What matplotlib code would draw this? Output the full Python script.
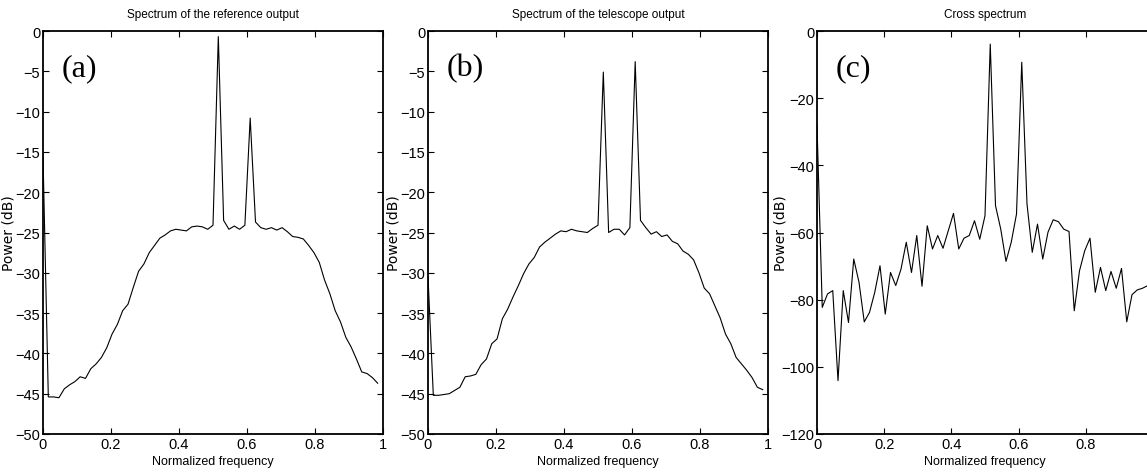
import numpy as np
import matplotlib
matplotlib.use("Agg")
import matplotlib.pyplot as plt
from matplotlib import font_manager

# Datos (64 puntos, paso 1/64)
freq = np.arange(64) / 64.0

ref_db = [-15.5, -45.4, -45.4, -45.5, -44.4, -43.9, -43.5, -42.9, -43.1, -41.9,
          -41.3, -40.5, -39.3, -37.6, -36.4, -34.7, -33.9, -31.8, -29.8, -28.9,
          -27.5, -26.6, -25.7, -25.3, -24.8, -24.6, -24.7, -24.8, -24.3, -24.2,
          -24.3, -24.6, -24.1, -0.7, -23.5, -24.6, -24.2, -24.6, -24.1, -10.8,
          -23.7, -24.4, -24.6, -24.4, -24.7, -24.4, -24.9, -25.5, -25.6, -25.8,
          -26.6, -27.5, -28.7, -30.9, -32.6, -34.7, -36.1, -38.0, -39.2, -40.7,
          -42.3, -42.5, -43.0, -43.7]

tel_db = [-30.5, -45.2, -45.2, -45.1, -45.0, -44.6, -44.2, -42.9, -42.8, -42.6,
          -41.4, -40.7, -38.8, -38.2, -35.7, -34.5, -33.0, -31.6, -30.1, -28.9,
          -28.1, -26.8, -26.2, -25.7, -25.2, -24.8, -24.9, -24.6, -24.8, -24.9,
          -25.0, -24.5, -24.1, -5.1, -25.0, -24.6, -24.6, -25.3, -24.4, -3.8,
          -23.5, -24.4, -25.2, -24.9, -25.5, -25.3, -26.1, -26.4, -27.3, -27.7,
          -28.4, -30.0, -31.9, -32.6, -34.1, -35.6, -37.6, -38.8, -40.5, -41.3,
          -42.1, -43.0, -44.2, -44.5]

cross_db = [-28.0, -82.3, -78.3, -77.3, -104.1, -77.3, -86.8, -67.9, -74.8, -86.6,
            -83.8, -77.8, -69.9, -84.3, -71.9, -75.8, -70.9, -62.9, -71.9, -60.9,
            -76.0, -58.0, -64.9, -60.9, -64.7, -59.5, -54.3, -64.9, -61.7, -60.9,
            -56.5, -62.0, -55.0, -3.9, -52.0, -59.0, -68.6, -62.9, -54.5, -9.3,
            -51.5, -65.9, -57.5, -67.9, -59.9, -56.2, -56.8, -59.0, -59.7, -83.3,
            -71.4, -65.4, -61.7, -77.8, -70.4, -77.3, -71.6, -76.6, -70.7, -86.6,
            -78.5, -77.1, -76.6, -75.8]

titles = ["Spectrum of the reference output", "Spectrum of the telescope output",
          "Cross spectrum"]
panel_tags = ["(a)", "(b)", "(c)"]
series = [ref_db, tel_db, cross_db]
y_ranges = [(-50, 0), (-50, 0), (-120, 0)]
y_steps = [5, 5, 20]
x_ticks = [0, 0.2, 0.4, 0.6, 0.8, 1]
x_tick_labels = ["0", "0.2", "0.4", "0.6", "0.8", "1"]

installed = {f.name for f in font_manager.fontManager.ttflist}
narrow = "Liberation Sans Narrow" if "Liberation Sans Narrow" in installed else "Liberation Sans"
plt.rcParams["font.family"] = [narrow, "DejaVu Sans"]

W, H = 1147, 477
fig = plt.figure(figsize=(W / 100, H / 100), dpi=100)

# posiciones en pixeles (izquierda, ancho) y posicion x del ylabel
boxes = [(43, 340), (428, 340), (817, 336)]
ylabel_x = [-0.082, -0.082, -0.089]
top_px, bottom_px = 32, 435

for k in range(3):
    left, width = boxes[k]
    ax = fig.add_axes([left / W, (H - bottom_px) / H, width / W,
                       (bottom_px - top_px) / H])
    ax.plot(freq, series[k], color="black", linewidth=0.8)
    lo, hi = y_ranges[k]
    ax.set_xlim(0, 1)
    ax.set_ylim(lo, hi)
    if k == 2:
        # el ultimo tick (1) queda fuera de la imagen
        ax.set_xticks(x_ticks[:-1])
        ax.set_xticklabels(x_tick_labels[:-1])
    else:
        ax.set_xticks(x_ticks)
        ax.set_xticklabels(x_tick_labels)
    ax.set_yticks(np.arange(lo, hi + 1, y_steps[k]))
    ax.tick_params(direction="in", top=True, right=True, length=4,
                   width=0.8, labelsize=10.5, pad=2)
    for s in ax.spines.values():
        s.set_linewidth(1.3)
    ax.set_title(titles[k], fontsize=8.5, pad=10)
    ax.set_xlabel("Normalized frequency", fontsize=9, labelpad=3)
    ax.set_ylabel("Power (dB)", fontsize=10, family="DejaVu Sans")
    ax.yaxis.set_label_coords(ylabel_x[k], 0.5)
    ax.text(0.055, 0.91, panel_tags[k], transform=ax.transAxes,
            fontsize=23, family="Liberation Serif", va="center", ha="left")

fig.savefig("out.png", dpi=100)
